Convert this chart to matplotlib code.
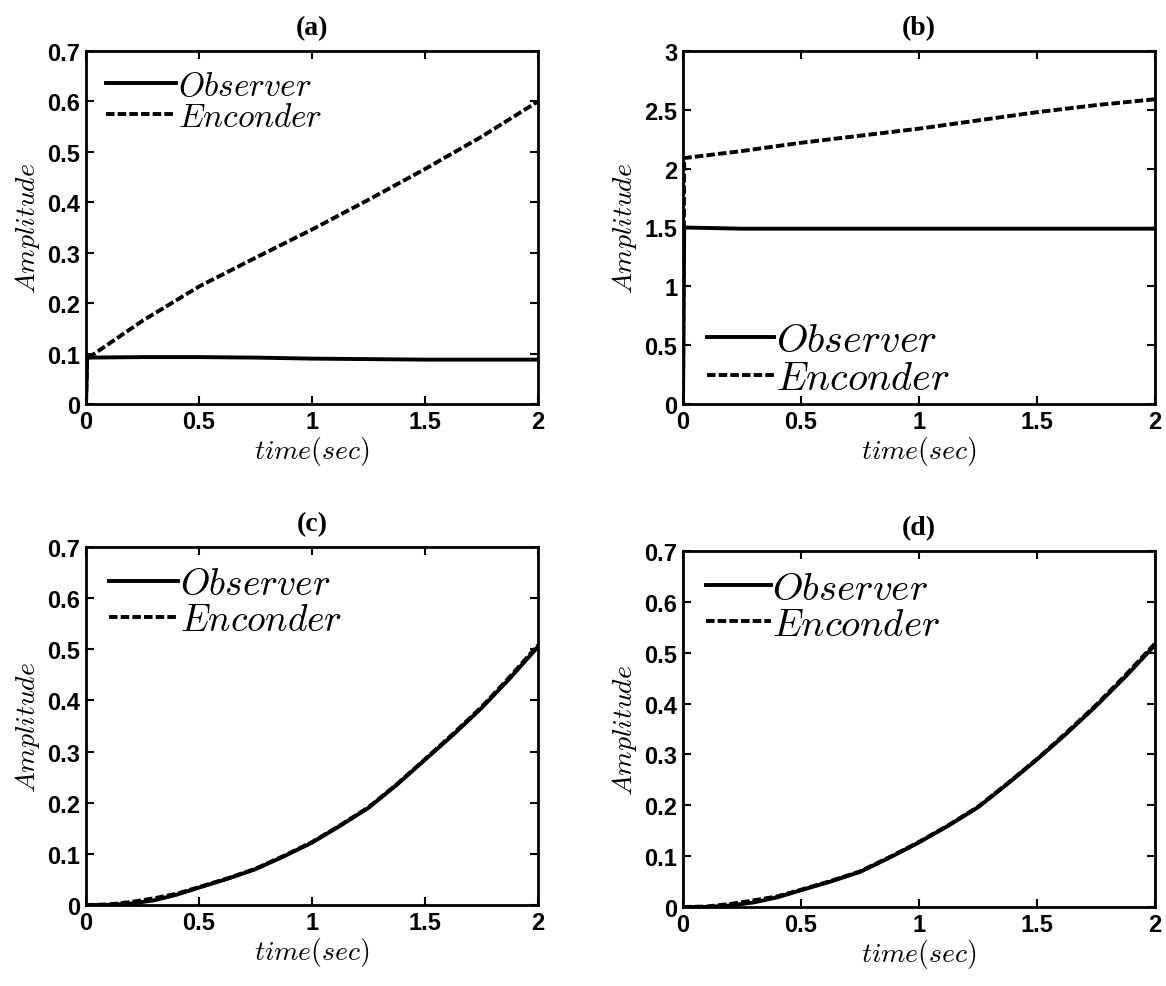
import matplotlib
matplotlib.use("Agg")
import matplotlib.pyplot as plt
from matplotlib.ticker import FormatStrFormatter
import numpy as np

plt.rcParams['mathtext.fontset'] = 'cm'
plt.rcParams['font.family'] = 'Liberation Sans'

# panel (a)
t_a = [0, 0.005, 0.25, 0.5, 0.75, 1.0, 1.25, 1.5, 1.75, 2.0]
obs_a = [0, 0.092, 0.093, 0.093, 0.092, 0.090, 0.089, 0.088, 0.088, 0.088]
enc_a = [0, 0.090, 0.165, 0.233, 0.290, 0.346, 0.405, 0.466, 0.530, 0.600]

# panel (b)
t_b = [0, 0.005, 0.25, 0.5, 0.75, 1.0, 1.25, 1.5, 1.75, 2.0]
obs_b = [0, 1.50, 1.49, 1.49, 1.49, 1.49, 1.49, 1.49, 1.49, 1.49]
enc_b = [0, 2.09, 2.15, 2.22, 2.28, 2.34, 2.41, 2.48, 2.54, 2.59]

# panel (c)
t_c = [0, 0.1, 0.2, 0.3, 0.4, 0.5, 0.625, 0.75, 0.875, 1.0, 1.125, 1.25,
       1.375, 1.5, 1.625, 1.75, 1.875, 2.0]
obs_c = [0, 0.000, 0.003, 0.009, 0.020, 0.034, 0.051, 0.070, 0.095, 0.122,
         0.155, 0.190, 0.235, 0.284, 0.333, 0.385, 0.443, 0.505]
enc_c = [0, 0.001, 0.006, 0.013, 0.022, 0.035, 0.052, 0.071, 0.096, 0.123,
         0.156, 0.191, 0.236, 0.285, 0.335, 0.387, 0.446, 0.508]

# panel (d)
t_d = t_c
obs_d = [0, 0.000, 0.003, 0.009, 0.019, 0.033, 0.050, 0.069, 0.097, 0.127,
         0.160, 0.196, 0.242, 0.290, 0.341, 0.395, 0.453, 0.515]
enc_d = [0, 0.001, 0.006, 0.013, 0.021, 0.034, 0.051, 0.070, 0.098, 0.128,
         0.161, 0.197, 0.243, 0.291, 0.343, 0.397, 0.456, 0.518]

titles = ['(a)', '(b)', '(c)', '(d)']

fig = plt.figure(figsize=(11.66, 9.87), dpi=100)
W, H = 1166.0, 987.0
# axes boxes in pixels: left, right, top, bottom
boxes = [(86, 538, 52, 405), (683, 1155, 52, 405),
         (86, 538, 548, 906), (683, 1155, 552, 908)]

# legend: loc, font size, handle length, anchor (axes fraction)
panels = [(t_a, obs_a, enc_a, 0.7, 0.1, 'upper left', 24, 2.1, (0.0, 1.0)),
          (t_b, obs_b, enc_b, 3.0, 0.5, 'lower left', 29, 1.65, (0.0, -0.05)),
          (t_c, obs_c, enc_c, 0.7, 0.1, 'upper left', 27, 1.85, (0.0, 1.01)),
          (t_d, obs_d, enc_d, 0.7, 0.1, 'upper left', 28, 1.65, (0.0, 1.01))]

for i, (t, obs, enc, ymax, ystep, loc, lfs, hl, anc) in enumerate(panels):
    l, r, tp, bt = boxes[i]
    ax = fig.add_axes([l / W, 1 - bt / H, (r - l) / W, (bt - tp) / H])
    ax.plot(t, obs, 'k-', lw=2.8, label=r'$Observer$')
    ax.plot(t, enc, 'k--', lw=2.8, dashes=(2.2, 0.8), label=r'$Enconder$')
    ax.set_xlim(0, 2)
    ax.set_ylim(0, ymax)
    ax.set_xticks(np.arange(0, 2.01, 0.5))
    ax.set_yticks(np.arange(0, ymax + 1e-9, ystep))
    ax.xaxis.set_major_formatter(FormatStrFormatter('%g'))
    ax.yaxis.set_major_formatter(FormatStrFormatter('%g'))
    ax.tick_params(direction='in', top=True, right=True, length=6, width=1.5,
                   labelsize=17, pad=4)
    for lab in ax.get_xticklabels() + ax.get_yticklabels():
        lab.set_fontweight('bold')
    for s in ax.spines.values():
        s.set_linewidth(2)
    ax.set_xlabel(r'$time(sec)$', fontsize=20, labelpad=1)
    ax.set_ylabel(r'$Amplitude$', fontsize=20, labelpad=4)
    ax.set_title(titles[i], fontsize=20, fontweight='bold',
                 family='Liberation Serif', pad=12)
    ax.legend(loc=loc, bbox_to_anchor=anc, frameon=False, fontsize=lfs,
              handlelength=hl, handletextpad=0.05, labelspacing=0.0,
              borderaxespad=0.3, borderpad=0.3)

fig.savefig('out.png', dpi=100)
